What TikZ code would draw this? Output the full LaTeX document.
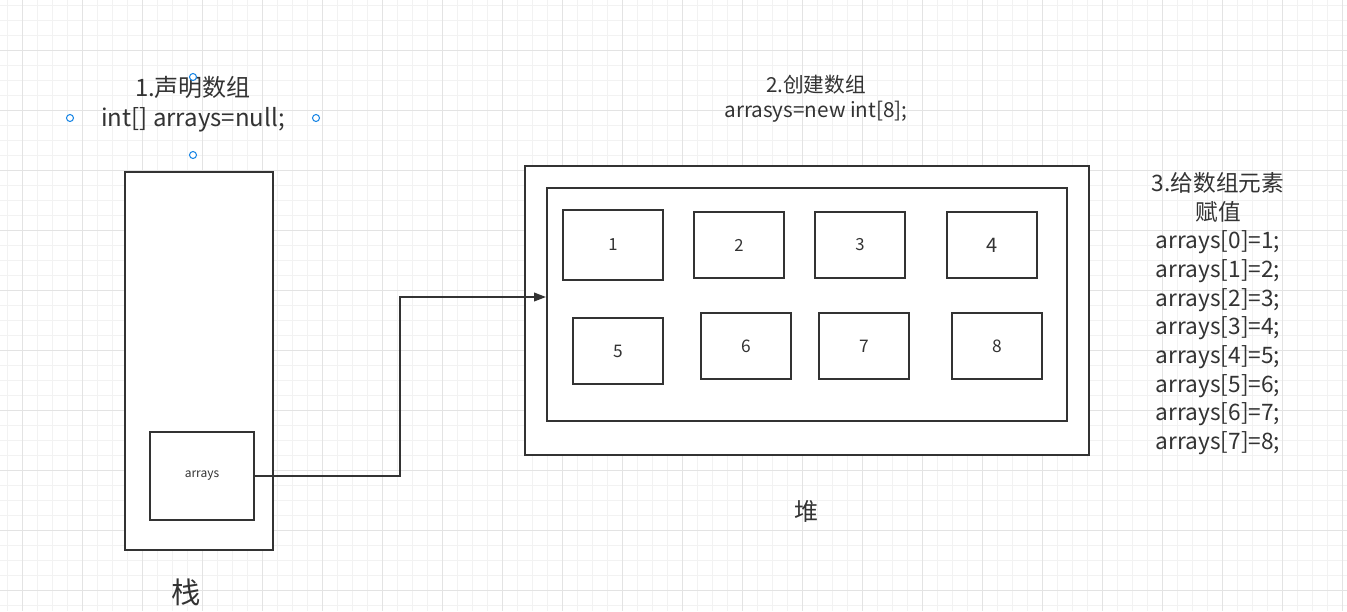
\documentclass[tikz,border=0pt]{standalone}
\usepackage{fontspec}
\setmainfont{Noto Sans CJK SC}
\usetikzlibrary{arrows.meta,positioning}
\definecolor{ink}{HTML}{333333}
\definecolor{gridminor}{HTML}{F2F2F2}
\definecolor{gridmajor}{HTML}{E3E3E3}
\definecolor{handle}{HTML}{1E88E5}

\begin{document}
\begin{tikzpicture}[x=0.75pt,y=-0.75pt,
 frame/.style={draw=ink,line width=1.5pt,inner sep=0pt},
 cell/.style={draw=ink,line width=1.5pt,fill=white,inner sep=0pt,minimum width=90*0.75pt,minimum height=66*0.75pt,text=ink,font=\fontsize{12.5}{14}\selectfont},
 lbl/.style={text=ink,align=center,inner sep=0pt},
 hnd/.style={draw=handle,fill=white,line width=0.8pt},
 conn/.style={-{Triangle[length=9pt,width=6.5pt]},draw=ink,line width=1.3pt}]
\useasboundingbox (0,0) rectangle (1347,611);
\fill[white] (0,0) rectangle (1347,611);
% background grid
\foreach \i in {0,...,89} \draw[gridminor,line width=0.75pt] (7.3+15*\i,0) -- (7.3+15*\i,611);
\foreach \j in {0,...,40} \draw[gridminor,line width=0.75pt] (0,5+15*\j) -- (1347,5+15*\j);
\foreach \i in {0,...,22} \draw[gridmajor,line width=0.75pt] (22.3+60*\i,0) -- (22.3+60*\i,611);
\foreach \j in {0,...,10} \draw[gridmajor,line width=0.75pt] (0,50+60*\j) -- (1347,50+60*\j);
% stack
\node[frame,fill=white,minimum width=148*0.75pt,minimum height=378*0.75pt] (stack) at (199,361) {};
\node[frame,fill=white,minimum width=104*0.75pt,minimum height=88*0.75pt,text=ink,font=\fontsize{9}{10}\selectfont] (arrptr) at (202,476) {\raisebox{-1.5pt}{arrays}};
\node[lbl,font=\fontsize{22}{24}\selectfont] (stacklbl) at (186,592) {栈};
% step 1
\node[lbl,font=\fontsize{18}{22.5}\selectfont] (step1) at (193,104) {1.声明数组\\int[] arrays=null;};
\draw[hnd] (193,77) circle (3.5);
\draw[hnd] (70,118) circle (3.5);
\draw[hnd] (316,118) circle (3.5);
\draw[hnd] (193,155) circle (3.5);
% heap
\node[frame,fill=white,minimum width=564*0.75pt,minimum height=289*0.75pt] (heap) at (807,310.5) {};
\node[frame,minimum width=520*0.75pt,minimum height=233*0.75pt] (heapin) at (807,304.5) {};
\node[cell,minimum width=100*0.75pt,minimum height=70*0.75pt] (c1) at (613,245) {1};
\node[cell] (c2) at (739,245) {2};
\node[cell] (c3) at (860,245) {3};
\node[cell,font=\fontsize{15}{17}\selectfont] (c4) at (992,245) {4};
\node[cell,font=\fontsize{13}{15}\selectfont] (c5) at (618,351) {5};
\node[cell,font=\fontsize{13}{15}\selectfont] (c6) at (746,346) {6};
\node[cell,font=\fontsize{13}{15}\selectfont] (c7) at (864,346) {7};
\node[cell,font=\fontsize{13}{15}\selectfont] (c8) at (997,346) {8};
\node[lbl,font=\fontsize{18}{20}\selectfont] (heaplbl) at (806,511) {堆};
% step 2
\node[lbl,font=\fontsize{15.5}{18.75}\selectfont] (step2) at (816,98.5) {2.创建数组\\arrasys=new int[8];};
% step 3
\node[lbl,font=\fontsize{17}{21.5}\selectfont,anchor=north] (step3) at (1218,172) {3.给数组元素\\赋值\\arrays[0]=1;\\arrays[1]=2;\\arrays[2]=3;\\arrays[3]=4;\\arrays[4]=5;\\arrays[5]=6;\\arrays[6]=7;\\arrays[7]=8;};
% reference arrow
\coordinate (bend) at (400,297);
\draw[conn] (arrptr.east) -- (arrptr.east -| bend) -- (bend) -- (bend -| heapin.west);
\end{tikzpicture}
\end{document}
